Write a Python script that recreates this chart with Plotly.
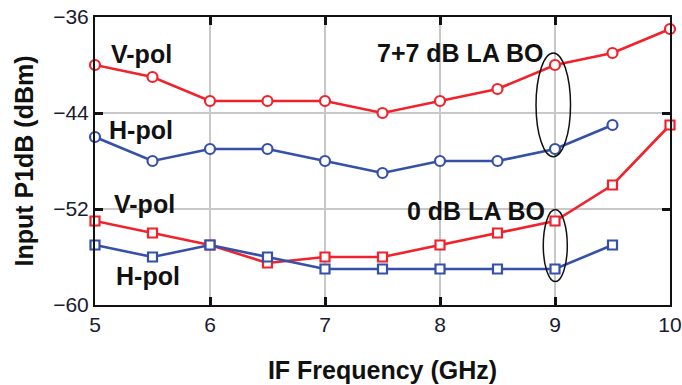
import plotly.graph_objects as go

freq_v = [5, 5.5, 6, 6.5, 7, 7.5, 8, 8.5, 9, 9.5, 10]
freq_h = [5, 5.5, 6, 6.5, 7, 7.5, 8, 8.5, 9, 9.5]

vpol_bo7 = [-40, -41, -43, -43, -43, -44, -43, -42, -40, -39, -37]
hpol_bo7 = [-46, -48, -47, -47, -48, -49, -48, -48, -47, -45]
vpol_bo0 = [-53, -54, -55, -56.5, -56, -56, -55, -54, -53, -50, -45]
hpol_bo0 = [-55, -56, -55, -56, -57, -57, -57, -57, -57, -55]

x_ticks = [5, 6, 7, 8, 9, 10]
y_ticks = [-60, -52, -44, -36]

RED = "#f0232d"
BLUE = "#3550a8"
FONT = "Arial, Liberation Sans, sans-serif"

fig = go.Figure()

def add(x, y, color, symbol, size):
    fig.add_trace(go.Scatter(
        x=x, y=y, mode="lines+markers",
        line=dict(color=color, width=2.6),
        marker=dict(symbol=symbol, size=size, color="white",
                    line=dict(color=color, width=2.2)),
        cliponaxis=False, showlegend=False))

add(freq_v, vpol_bo7, RED, "circle", 10)
add(freq_h, hpol_bo7, BLUE, "circle", 10)
add(freq_v, vpol_bo0, RED, "square", 9)
add(freq_h, hpol_bo0, BLUE, "square", 9)

labels = [
    ("V-pol", 5.40, -39.1),
    ("H-pol", 5.40, -45.4),
    ("V-pol", 5.43, -51.6),
    ("H-pol", 5.46, -57.6),
    ("7+7 dB LA BO", 8.17, -39.0),
    ("0 dB LA BO", 8.31, -52.2),
]
for t, x, y in labels:
    fig.add_annotation(x=x, y=y, text="<b>%s</b>" % t, showarrow=False,
                       font=dict(family=FONT, size=25, color="#111111"),
                       xanchor="center", yanchor="middle")

fig.add_shape(type="circle", xref="x", yref="y", x0=8.835, x1=9.135,
              y0=-47.65, y1=-39.0, line=dict(color="#111111", width=1.5))
fig.add_shape(type="circle", xref="x", yref="y", x0=8.898, x1=9.107,
              y0=-58.05, y1=-52.05, line=dict(color="#111111", width=1.5))

axis_common = dict(
    showline=True, linecolor="#111111", linewidth=2, mirror="ticks",
    ticks="inside", ticklen=8, tickwidth=2.5, tickcolor="#111111",
    showgrid=True, gridcolor="#c8c8c8", gridwidth=1.5, zeroline=False,
    tickfont=dict(family=FONT, size=21, color="#1a1a30"),
    automargin=False,
)

fig.update_xaxes(range=[5, 10], tickvals=x_ticks, **axis_common,
                 title=dict(text="<b>IF Frequency (GHz)</b>",
                            font=dict(family=FONT, size=25, color="#111111"),
                            standoff=26))
fig.update_yaxes(range=[-60, -36], tickvals=y_ticks, **axis_common,
                 title=dict(text="<b>Input P1dB (dBm)</b>",
                            font=dict(family=FONT, size=25, color="#111111"),
                            standoff=12))

fig.update_layout(
    width=682, height=385,
    margin=dict(l=95, r=12, t=17, b=80),
    plot_bgcolor="white", paper_bgcolor="white",
)

fig.write_html("out.html")
